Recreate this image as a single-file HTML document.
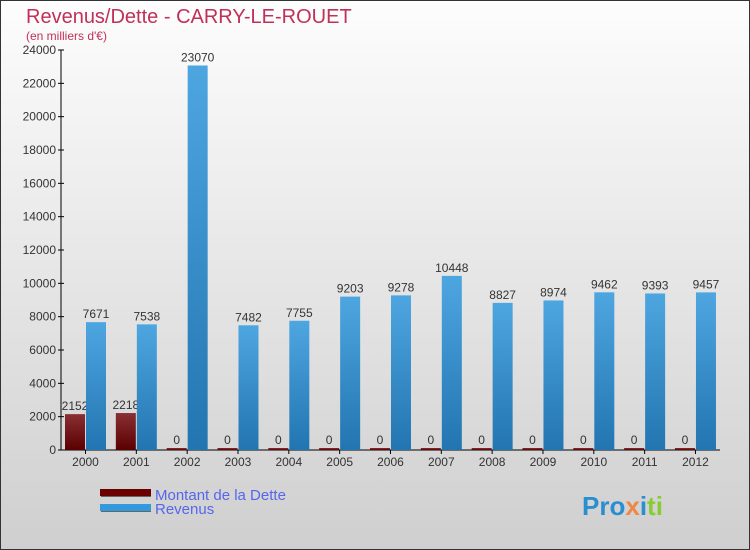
<!DOCTYPE html>
<html><head><meta charset="utf-8"><style>
body{margin:0;width:750px;height:550px;overflow:hidden;font-family:"Liberation Sans",sans-serif}
#wrap{position:absolute;left:0;top:0;width:748px;height:548px;border:1px solid #333;background:linear-gradient(#fdfdfd,#cfcfcf)}
</style></head><body>
<div id="wrap">
<svg id="chart" width="750" height="550" style="position:absolute;left:-1px;top:-1px">
<defs>
<linearGradient id="gRev" x1="0" y1="0" x2="0" y2="1"><stop offset="0" stop-color="#4ea6e0"/><stop offset="1" stop-color="#2275b0"/></linearGradient>
<linearGradient id="gDebt" x1="0" y1="0" x2="0" y2="1"><stop offset="0" stop-color="#8a3035"/><stop offset="1" stop-color="#5a0000"/></linearGradient>
</defs>
<text x="26" y="23" font-size="20" fill="#c0305a">Revenus/Dette - CARRY-LE-ROUET</text>
<text x="26" y="40" font-size="12" fill="#c0305a">(en milliers d'€)</text>
<g id="axes"></g>
<g id="bars"></g>
<g>
<rect x="101" y="490" width="50" height="7" fill="#666"/><rect x="100" y="489" width="51" height="7" fill="#6a0000"/>
<rect x="101" y="505" width="50" height="7" fill="#666"/><rect x="100" y="504" width="51" height="7" fill="#3399dd"/>
<text x="155" y="500" font-size="15" fill="#5566ee">Montant de la Dette</text>
<text x="155" y="514" font-size="15" fill="#5566ee">Revenus</text>
</g>
<text x="582" y="515" font-size="26" font-weight="bold"><tspan fill="#2a8fd0">Pro</tspan><tspan fill="#e84">x</tspan><tspan fill="#2a8fd0">i</tspan><tspan fill="#8c3">ti</tspan></text>
</svg>
</div>
<script>
const years=["2000","2001","2002","2003","2004","2005","2006","2007","2008","2009","2010","2011","2012"];
const debt=[2152,2218,0,0,0,0,0,0,0,0,0,0,0];
const revenus=[7671,7538,23070,7482,7755,9203,9278,10448,8827,8974,9462,9393,9457];
const yTicks=[0,2000,4000,6000,8000,10000,12000,14000,16000,18000,20000,22000,24000];
const NS="http://www.w3.org/2000/svg";
const y0=450,yTop=50,maxV=24000;
const y=v=>y0-(v/maxV)*(y0-yTop);
const x=i=>85.5+i*50.83;
const ax=document.getElementById('axes'),bg=document.getElementById('bars');
function mk(tag,attrs,parent){const e=document.createElementNS(NS,tag);for(const k in attrs)e.setAttribute(k,attrs[k]);parent.appendChild(e);return e;}
let l=mk('line',{x1:61,y1:y(24000),x2:61,y2:y0,stroke:'#000'},ax);


l=mk('line',{x1:61,y1:y0,x2:720,y2:y0,stroke:'#000'},ax);


yTicks.forEach(v=>{
 mk('line',{x1:58,y1:y(v),x2:64,y2:y(v),stroke:'#000'},ax);
 const t=mk('text',{x:56,y:y(v)+4,'font-size':12,fill:'#333','text-anchor':'end'},ax);
 t.textContent=v;
 
 
});
years.forEach((yr,i)=>{
 const cx=x(i);
 mk('line',{x1:cx,y1:y0,x2:cx,y2:y0+4,stroke:'#000'},ax);
 const t=mk('text',{x:cx,y:y0+16,'font-size':12,fill:'#333','text-anchor':'middle'},ax);
 t.textContent=yr;
 
 
 const hd=Math.max(y0-y(debt[i]),2);
 const b1=mk('rect',{x:cx-20.5,y:y0-hd,width:20,height:hd,fill:'url(#gDebt)'},bg);
 
 
 const v1=mk('text',{x:cx-10.5,y:y0-hd-4,'font-size':12,fill:'#333','text-anchor':'middle'},bg);
 v1.textContent=debt[i];
 
 
 const b2=mk('rect',{x:cx+0.5,y:y(revenus[i]),width:20,height:y0-y(revenus[i]),fill:'url(#gRev)'},bg);
 
 
 const v2=mk('text',{x:cx+10.5,y:y(revenus[i])-4,'font-size':12,fill:'#333','text-anchor':'middle'},bg);
 v2.textContent=revenus[i];
 
 
});
</script>
</body></html>
